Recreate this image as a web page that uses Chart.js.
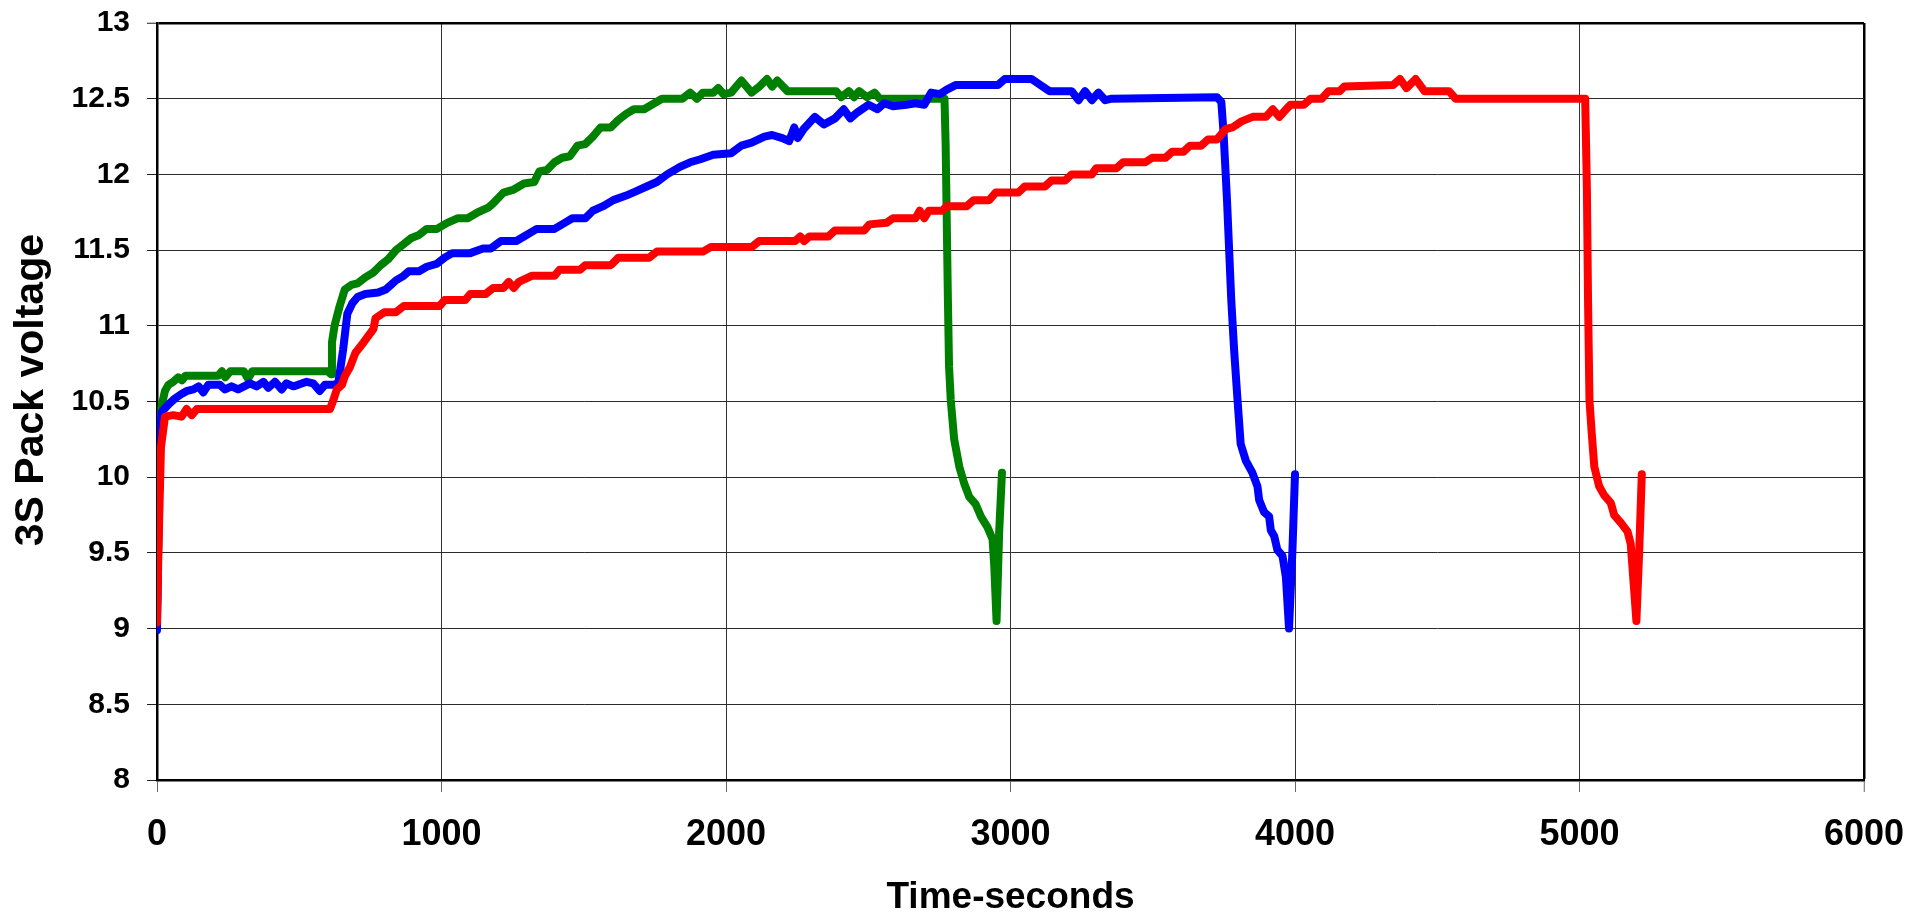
<!DOCTYPE html>
<html>
<head>
<meta charset="utf-8">
<title>3S Pack voltage</title>
<script src="https://cdn.jsdelivr.net/npm/chart.js@4.4.1/dist/chart.umd.min.js"></script>
<style>
  html, body { margin: 0; padding: 0; background: #fff; }
  #wrap { width: 1913px; height: 916px; position: relative; }
</style>
</head>
<body>
<div id="wrap"><canvas id="chart"></canvas></div>
<script>
// tick values
const xTicks = [0, 1000, 2000, 3000, 4000, 5000, 6000];
const yTicks = [8, 8.5, 9, 9.5, 10, 10.5, 11, 11.5, 12, 12.5, 13];

// green run (shortest)
const greenTime = [0, 5, 10, 16, 28, 40, 57, 75, 88, 100, 180, 215, 228, 240, 258, 305, 320, 335, 600, 612,
  615, 624, 642, 660, 683, 705, 732, 759, 786, 813, 840, 867, 894, 921, 948, 984, 1020, 1056, 1092, 1128,
  1164, 1182, 1218, 1254, 1290, 1326, 1344, 1371, 1397, 1424, 1451, 1478, 1505, 1532, 1559, 1595, 1622, 1649,
  1676, 1712, 1739, 1775, 1847, 1874, 1898, 1919, 1955, 1973, 1991, 2018, 2054, 2090, 2117, 2144, 2162, 2180,
  2216, 2387, 2405, 2432, 2450, 2468, 2495, 2522, 2540, 2768, 2772, 2780, 2784, 2790, 2802, 2820, 2837, 2855,
  2878, 2896, 2919, 2937, 2943, 2951, 2960, 2970];
const greenVolt = [9.10, 9.6, 10.3, 10.47, 10.57, 10.61, 10.63, 10.66, 10.64, 10.67, 10.67, 10.67, 10.70, 10.66, 10.70, 10.70, 10.65, 10.70, 10.70, 10.68,
  10.89, 11.0, 11.13, 11.24, 11.27, 11.28, 11.32, 11.35, 11.40, 11.44, 11.50, 11.54, 11.58, 11.60, 11.64, 11.64, 11.68, 11.71, 11.71, 11.75,
  11.78, 11.81, 11.88, 11.90, 11.94, 11.95, 12.02, 12.03, 12.08, 12.11, 12.12, 12.19, 12.20, 12.25, 12.31, 12.31, 12.36, 12.40,
  12.43, 12.43, 12.46, 12.50, 12.50, 12.54, 12.50, 12.54, 12.54, 12.57, 12.53, 12.54, 12.62, 12.54, 12.58, 12.63, 12.58, 12.62,
  12.55, 12.55, 12.51, 12.55, 12.51, 12.55, 12.51, 12.54, 12.50, 12.50, 12.2, 11.17, 10.73, 10.51, 10.25, 10.07, 9.96, 9.87,
  9.82, 9.74, 9.67, 9.59, 9.41, 9.05, 9.63, 10.03];

// blue run
const blueTime = [0, 6, 12, 16, 40, 63, 86, 106, 128, 146, 163, 180, 221, 239, 262, 285, 327, 350, 374, 391,
  415, 438, 455, 479, 496, 526, 549, 572, 590, 619, 637, 654, 669, 687, 705, 732, 777, 804, 822, 840,
  867, 885, 921, 948, 984, 1011, 1038, 1101, 1146, 1173, 1209, 1263, 1290, 1335, 1397, 1433, 1460, 1505, 1532, 1568,
  1604, 1649, 1685, 1721, 1757, 1793, 1838, 1874, 1910, 1955, 2018, 2054, 2090, 2135, 2162, 2198, 2222, 2240, 2252, 2273,
  2312, 2344, 2383, 2414, 2437, 2462, 2501, 2532, 2556, 2587, 2634, 2666, 2697, 2721, 2752, 2776, 2807, 2956, 2980, 3074,
  3105, 3137, 3215, 3239, 3262, 3286, 3309, 3333, 3356, 3725, 3741, 3749, 3761, 3776, 3786, 3798, 3809, 3827, 3850, 3868,
  3874, 3891, 3909, 3915, 3927, 3938, 3956, 3968, 3979, 3991, 4000];
const blueVolt = [8.99, 9.8, 10.3, 10.43, 10.48, 10.52, 10.55, 10.57, 10.58, 10.60, 10.56, 10.61, 10.61, 10.58, 10.60, 10.58, 10.62, 10.60, 10.63, 10.59,
  10.63, 10.58, 10.62, 10.60, 10.61, 10.63, 10.62, 10.57, 10.61, 10.61, 10.62, 10.84, 11.08, 11.15, 11.19, 11.21, 11.22, 11.24, 11.27, 11.30,
  11.33, 11.36, 11.36, 11.39, 11.41, 11.45, 11.48, 11.48, 11.51, 11.51, 11.56, 11.56, 11.59, 11.64, 11.64, 11.68, 11.71, 11.71, 11.76, 11.79,
  11.83, 11.86, 11.89, 11.92, 11.95, 12.00, 12.05, 12.08, 12.10, 12.13, 12.14, 12.19, 12.21, 12.25, 12.26, 12.24, 12.22, 12.31, 12.24, 12.30,
  12.38, 12.33, 12.37, 12.43, 12.37, 12.41, 12.46, 12.43, 12.47, 12.45, 12.46, 12.47, 12.46, 12.54, 12.53, 12.56, 12.59, 12.59, 12.63, 12.63,
  12.59, 12.55, 12.55, 12.49, 12.55, 12.49, 12.54, 12.49, 12.50, 12.51, 12.48, 12.27, 11.83, 11.17, 10.84, 10.51, 10.22, 10.11, 10.03, 9.94,
  9.85, 9.77, 9.74, 9.65, 9.61, 9.52, 9.48, 9.34, 9.00, 9.52, 10.02];

// red run (longest)
const redTime = [0, 6, 14, 28, 57, 86, 104, 122, 140, 608, 620, 632, 650, 661, 679, 697, 726, 761, 768, 799,
  840, 867, 993, 1011, 1083, 1101, 1155, 1182, 1218, 1236, 1254, 1272, 1317, 1397, 1415, 1487, 1505, 1595, 1622, 1730,
  1757, 1919, 1946, 2090, 2117, 2243, 2261, 2275, 2293, 2360, 2383, 2486, 2504, 2564, 2587, 2666, 2681, 2697, 2713, 2760,
  2776, 2846, 2870, 2925, 2948, 3027, 3050, 3121, 3144, 3192, 3215, 3286, 3301, 3372, 3396, 3474, 3498, 3545, 3568, 3608,
  3631, 3670, 3694, 3725, 3757, 3780, 3812, 3851, 3898, 3922, 3945, 3969, 3984, 4031, 4055, 4094, 4118, 4157, 4173, 4345,
  4369, 4392, 4424, 4455, 4541, 4565, 5020, 5026, 5030, 5035, 5043, 5052, 5069, 5087, 5110, 5122, 5145, 5169, 5180, 5186,
  5200, 5210, 5219];
const redVolt = [9.04, 9.6, 10.2, 10.40, 10.41, 10.40, 10.45, 10.41, 10.45, 10.45, 10.51, 10.58, 10.61, 10.67, 10.73, 10.82, 10.89, 10.98, 11.05, 11.09,
  11.09, 11.13, 11.13, 11.17, 11.17, 11.21, 11.21, 11.25, 11.25, 11.29, 11.25, 11.29, 11.33, 11.33, 11.37, 11.37, 11.40, 11.40, 11.45, 11.45,
  11.49, 11.49, 11.52, 11.52, 11.56, 11.56, 11.59, 11.56, 11.59, 11.59, 11.63, 11.63, 11.67, 11.68, 11.71, 11.71, 11.76, 11.71, 11.76, 11.76,
  11.79, 11.79, 11.83, 11.83, 11.88, 11.88, 11.92, 11.92, 11.96, 11.96, 12.00, 12.00, 12.04, 12.04, 12.08, 12.08, 12.11, 12.11, 12.15, 12.15,
  12.19, 12.19, 12.23, 12.23, 12.30, 12.31, 12.35, 12.38, 12.38, 12.43, 12.38, 12.43, 12.46, 12.46, 12.50, 12.50, 12.55, 12.55, 12.58, 12.59,
  12.63, 12.57, 12.63, 12.55, 12.55, 12.50, 12.50, 11.9, 11.17, 10.51, 10.29, 10.07, 9.94, 9.88, 9.83, 9.75, 9.70, 9.64, 9.56, 9.41,
  9.05, 9.52, 10.02];

function toPoints(times, volts) {
    return times.map((t, i) => ({ x: t, y: volts[i] }));
}

function lineSet(times, volts, color) {
    return {
        data: toPoints(times, volts),
        borderColor: color,
        backgroundColor: color,
        borderWidth: 8,
        pointRadius: 0,
        tension: 0,
        borderJoinStyle: 'round',
        borderCapStyle: 'round',
        fill: false
    };
}

const fontFamily = '"Liberation Sans", Arial, sans-serif';

new Chart(document.getElementById('chart').getContext('2d'), {
    type: 'line',
    data: {
        datasets: [
            lineSet(redTime, redVolt, '#ff0000'),
            lineSet(blueTime, blueVolt, '#0000ff'),
            lineSet(greenTime, greenVolt, '#008000')
        ]
    },
    options: {
        responsive: true,
        maintainAspectRatio: false,
        animation: false,
        layout: { padding: { top: 23, right: 49, left: 0, bottom: 0 } },
        plugins: {
            legend: { display: false },
            tooltip: { enabled: false }
        },
        scales: {
            x: {
                type: 'linear',
                min: 0,
                max: 6000,
                afterBuildTicks: scale => { scale.ticks = xTicks.map(v => ({ value: v })); },
                afterFit: scale => {
                    scale.height = 136;
                    scale.paddingLeft = 0;
                    scale.paddingRight = 0;
                },
                ticks: {
                    color: '#000',
                    padding: 21,
                    maxRotation: 0,
                    font: { family: fontFamily, size: 36, weight: 'bold' },
                    callback: v => String(v)
                },
                grid: {
                    color: ctx => ctx.tick && ctx.tick.value === 6000 ? '#000' : '#333',
                    lineWidth: ctx => ctx.tick && ctx.tick.value === 6000 ? 2.5 : 1,
                    tickLength: 12,
                    tickColor: '#666',
                    tickWidth: 1
                },
                border: { display: true, color: '#000', width: 2.5 },
                title: {
                    display: true,
                    text: 'Time-seconds',
                    color: '#000',
                    padding: { top: 0, bottom: 0 },
                    font: { family: fontFamily, size: 37, weight: 'bold', lineHeight: 1 }
                }
            },
            y: {
                type: 'linear',
                min: 8,
                max: 13,
                afterBuildTicks: scale => { scale.ticks = yTicks.map(v => ({ value: v })); },
                afterFit: scale => {
                    scale.width = 157;
                    scale.paddingTop = 0;
                    scale.paddingBottom = 0;
                },
                ticks: {
                    color: '#000',
                    padding: 17,
                    font: { family: fontFamily, size: 30, weight: 'bold' },
                    callback: v => String(v)
                },
                grid: {
                    color: ctx => ctx.tick && ctx.tick.value === 13 ? '#000' : '#2a2a2a',
                    lineWidth: ctx => ctx.tick && ctx.tick.value === 13 ? 2.5 : 1,
                    tickLength: 10,
                    tickColor: '#222',
                    tickWidth: 1
                },
                border: { display: true, color: '#000', width: 2.5 },
                title: {
                    display: true,
                    text: '\u00a0\u00a03S Pack voltage',
                    color: '#000',
                    padding: { top: 11, bottom: 0 },
                    font: { family: fontFamily, size: 41, weight: 'bold', lineHeight: 1 }
                }
            }
        }
    }
});
</script>
</body>
</html>
